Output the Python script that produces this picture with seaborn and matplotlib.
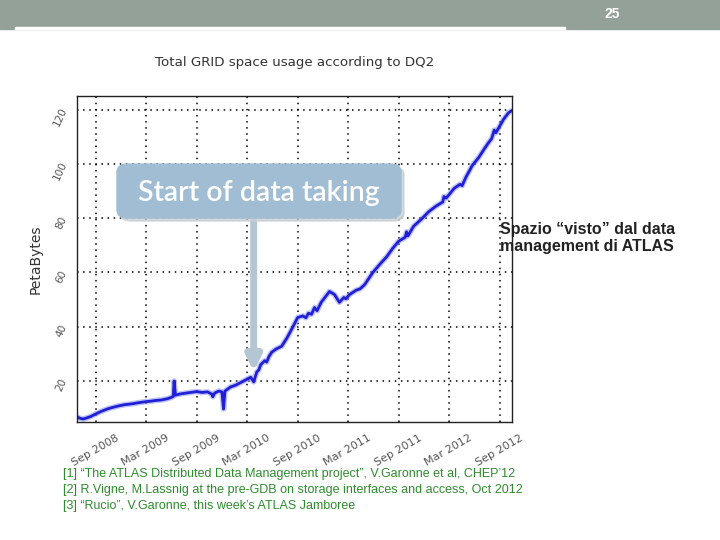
import pandas as pd
import matplotlib
matplotlib.use('Agg')
import matplotlib.pyplot as plt
import matplotlib.dates as mdates
from matplotlib.patches import Rectangle, FancyBboxPatch
import seaborn as sns

# Dati (PetaBytes)
dates = ['2008-06-25', '2008-07-05', '2008-07-17', '2008-07-30', '2008-08-15', '2008-09-01',
         '2008-09-20', '2008-10-15', '2008-11-05', '2008-11-25', '2008-12-15', '2009-01-10',
         '2009-02-01', '2009-03-01', '2009-03-20', '2009-04-10', '2009-04-25', '2009-05-19',
         '2009-06-01', '2009-06-08', '2009-06-11', '2009-06-16', '2009-07-01', '2009-07-20',
         '2009-08-10', '2009-09-01', '2009-09-20', '2009-10-10', '2009-10-25', '2009-10-29',
         '2009-11-05', '2009-11-20', '2009-12-01', '2009-12-07', '2009-12-12', '2010-01-01',
         '2010-01-20', '2010-02-10', '2010-03-01', '2010-03-15', '2010-03-26', '2010-04-06',
         '2010-04-14', '2010-04-20', '2010-05-05', '2010-05-12', '2010-05-20', '2010-05-30',
         '2010-06-15', '2010-07-05', '2010-07-25', '2010-08-15', '2010-09-01', '2010-09-20',
         '2010-10-01', '2010-10-10', '2010-10-21', '2010-11-01', '2010-11-10', '2010-11-25',
         '2010-12-10', '2010-12-25', '2011-01-12', '2011-01-30', '2011-02-15', '2011-02-22',
         '2011-03-08', '2011-04-01', '2011-04-15', '2011-05-01', '2011-05-30', '2011-06-25',
         '2011-07-20', '2011-08-10', '2011-09-01', '2011-09-25', '2011-09-30', '2011-10-05',
         '2011-10-25', '2011-11-26', '2011-12-20', '2012-01-15', '2012-02-08', '2012-02-12',
         '2012-02-20', '2012-03-20', '2012-04-10', '2012-04-18', '2012-05-01', '2012-05-25',
         '2012-06-17', '2012-07-10', '2012-07-20', '2012-08-03', '2012-08-12', '2012-08-18',
         '2012-09-01', '2012-09-15', '2012-10-03', '2012-10-12']
petabytes = [6.8, 6.3, 6.0, 6.4, 7.0, 7.9,
             8.8, 9.8, 10.4, 10.9, 11.3, 11.6,
             12.0, 12.4, 12.6, 12.9, 13.0, 13.5,
             14.0, 14.3, 20.0, 14.8, 15.2, 15.5,
             15.8, 16.1, 15.8, 16.0, 15.2, 14.2,
             15.6, 16.3, 16.0, 9.7, 16.3, 17.8,
             18.5, 19.6, 20.6, 21.4, 19.7, 23.3,
             24.2, 26.0, 27.5, 27.0, 29.0, 30.6,
             31.8, 32.8, 36.0, 40.0, 43.4, 44.0,
             43.3, 45.0, 44.6, 47.1, 45.9, 49.0,
             51.0, 53.0, 51.9, 49.0, 50.8, 50.3,
             51.9, 53.5, 54.0, 55.5, 59.9, 63.0,
             65.8, 68.8, 71.5, 73.0, 75.0, 73.5,
             77.0, 80.0, 82.5, 84.5, 86.0, 88.0,
             87.4, 91.0, 92.5, 92.0, 95.0, 99.5,
             102.4, 106.0, 107.5, 109.4, 112.5, 111.5,
             114.0, 116.5, 118.9, 119.5]
tick_dates = ['2008-09-01', '2009-03-01', '2009-09-01', '2010-03-01', '2010-09-01',
              '2011-03-01', '2011-09-01', '2012-03-01', '2012-09-01']
y_ticks = [20, 40, 60, 80, 100, 120]

df = pd.DataFrame({'Date': pd.to_datetime(dates), 'PB': petabytes})

sns.set_style('white')
plt.rcParams['font.family'] = ['DejaVu Sans']

fig = plt.figure(figsize=(7.2, 5.4), dpi=100)
ax = fig.add_axes([0.107, 0.219, 0.604, 0.603])

# barra in alto della slide
fig.patches.append(Rectangle((0, 1 - 29 / 540), 1, 29 / 540, transform=fig.transFigure,
                             color='#93a198', zorder=0))
fig.patches.append(Rectangle((15 / 720, 1 - 29 / 540), 550 / 720, 2 / 540, transform=fig.transFigure,
                             color='white', zorder=1))
fig.text(612 / 720, 1 - 14 / 540, '25', color='white', fontsize=10, fontweight='bold',
         ha='center', va='center', family='Liberation Sans')

# linea (un po' sfocata come nell'immagine)
sns.lineplot(data=df, x='Date', y='PB', ax=ax, color='#7f86f0', linewidth=4.0, alpha=0.5)
sns.lineplot(data=df, x='Date', y='PB', ax=ax, color='#1f1fd8', linewidth=2.0)

ax.set_xlim(pd.Timestamp('2008-06-25'), pd.Timestamp('2012-10-15'))
ax.set_ylim(5, 125)
ax.set_xticks(pd.to_datetime(tick_dates))
ax.xaxis.set_major_formatter(mdates.DateFormatter('%b %Y'))
ax.set_yticks(y_ticks)
ax.grid(True, color='black', linestyle=(0, (1, 3)), linewidth=1.1)
for s in ax.spines.values():
    s.set_color('#222222')
    s.set_linewidth(1.0)
ax.tick_params(axis='x', labelsize=8, labelcolor='#555555', rotation=30, direction='in', length=4, pad=8)
ax.tick_params(axis='y', labelsize=7.5, labelcolor='#555555', rotation=65, direction='in', length=4, pad=6)
for lab in ax.get_xticklabels():
    lab.set_ha('center')
ax.set_xlabel('')
ax.set_ylabel('PetaBytes', fontsize=10, color='#333333', labelpad=6)
ax.set_title('Total GRID space usage according to DQ2', fontsize=9.6, color='#333333', pad=22)

# riquadro "Start of data taking" con freccia
ax.annotate('', xy=(pd.Timestamp('2010-03-26'), 22.5), xytext=(pd.Timestamp('2010-03-26'), 80),
            arrowprops=dict(arrowstyle='-|>', lw=5, color='#b4c6d4', mutation_scale=22))
fig.patches.append(FancyBboxPatch((120 / 720, 1 - 221 / 540), 284 / 720, 54 / 540,
                                  boxstyle='round,pad=0,rounding_size=0.015',
                                  transform=fig.transFigure, color='#c9cfd4', alpha=0.8, zorder=5))
fig.patches.append(FancyBboxPatch((117 / 720, 1 - 218 / 540), 284 / 720, 54 / 540,
                                  boxstyle='round,pad=0,rounding_size=0.015',
                                  transform=fig.transFigure, color='#a0bdd4', zorder=6))
fig.text(259 / 720, 1 - 193 / 540, 'Start of data taking', color='white', fontsize=20.5,
         fontweight='semibold', ha='center', va='center', family='Lato', zorder=7)

# testo a destra
fig.text(500 / 720, 1 - 238 / 540, 'Spazio \u201cvisto\u201d dal data\nmanagement di ATLAS',
         fontsize=11.5, fontweight='bold', family='Liberation Sans', color='#222222',
         ha='left', va='center', linespacing=1.1)

# riferimenti
refs = ['[1] \u201cThe ATLAS Distributed Data Management project\u201d, V.Garonne et al, CHEP\u201912',
        '[2] R.Vigne, M.Lassnig at the pre-GDB on storage interfaces and access, Oct 2012',
        '[3] \u201cRucio\u201d, V.Garonne, this week\u2019s ATLAS Jamboree']
for i, r in enumerate(refs):
    fig.text(63 / 720, 1 - (474 + 16 * i) / 540, r, fontsize=9, color='#2e8b2e',
             family='Liberation Sans', ha='left', va='center')

fig.savefig('out.png', dpi=100)
